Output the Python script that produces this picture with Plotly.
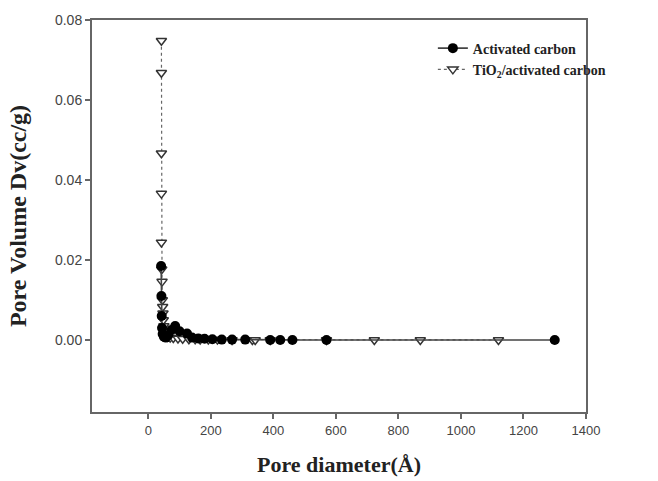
import plotly.graph_objects as go

# Activated carbon (filled circles, solid line)
ac_x = [41, 42, 43, 44, 46, 50, 56, 64, 74, 86, 100, 124, 140, 160, 180, 205, 235, 268, 310, 390, 422, 461, 570, 1300]
ac_y = [0.0185, 0.0110, 0.0060, 0.0030, 0.0015, 0.0008, 0.0006, 0.0012, 0.0025, 0.0035, 0.0022, 0.0016,
        0.0006, 0.0004, 0.0003, 0.0002, 0.0001, 0.0001, 0.0001, 0.0, 0.0, 0.0, 0.0, 0.0]

# TiO2/activated carbon (open down-triangles, dotted line)
ti_x = [42, 42, 42, 42, 42, 43, 44, 45, 46, 47, 48, 50, 53, 57, 62, 70, 80, 95, 110, 130, 150, 166, 192, 221,
        268, 333, 342, 390, 570, 723, 870, 1120]
ti_y = [0.0748, 0.0668, 0.0467, 0.0366, 0.0244, 0.0177, 0.0146, 0.0100, 0.0083, 0.0067, 0.0050, 0.0035,
        0.0020, 0.0012, 0.0008, 0.0006, 0.0005, 0.0004, 0.0003, 0.0002, 0.0002, 0.0001, 0.0001, 0.0001,
        0.0, 0.0, 0.0, 0.0, 0.0, 0.0, 0.0, 0.0]

x_ticks = [0, 200, 400, 600, 800, 1000, 1200, 1400]
y_ticks = [0.00, 0.02, 0.04, 0.06, 0.08]

fig = go.Figure()
fig.add_trace(go.Scatter(
    x=ti_x, y=ti_y, mode="lines+markers", name="TiO<sub>2</sub>/activated carbon",
    line=dict(color="#666666", width=1.2, dash="dot"),
    marker=dict(symbol="triangle-down", size=9, color="white", line=dict(color="#333333", width=1.5)),
))
fig.add_trace(go.Scatter(
    x=ac_x, y=ac_y, mode="lines+markers", name="Activated carbon",
    line=dict(color="#444444", width=1.6),
    marker=dict(symbol="circle", size=10, color="black", line=dict(color="black", width=0)),
))

fig.update_layout(
    width=658, height=481,
    margin=dict(l=92, r=72, t=20, b=69),
    paper_bgcolor="white", plot_bgcolor="white",
    showlegend=True,
    legend=dict(
        x=0.69, y=0.968, xanchor="left", yanchor="top",
        traceorder="reversed",
        font=dict(family="Liberation Serif", size=14, color="#222222", weight="bold"),
        bgcolor="rgba(0,0,0,0)", tracegroupgap=0,
    ),
    xaxis=dict(
        range=[-180, 1400], tickvals=x_ticks, automargin=False,
        showline=True, linecolor="#666666", linewidth=2, mirror=True,
        ticks="outside", ticklen=5, tickcolor="#666666", tickwidth=1.5,
        showgrid=False, zeroline=False,
        tickfont=dict(family="Liberation Sans", size=13, color="#444444"),
        title=dict(text="Pore diameter(Å)",
                   font=dict(family="Liberation Serif", size=22, color="#222222", weight="bold"), standoff=20),
    ),
    yaxis=dict(
        range=[-0.018, 0.08], tickvals=y_ticks, tickformat=".2f", automargin=False,
        showline=True, linecolor="#666666", linewidth=2, mirror=True,
        ticks="outside", ticklen=5, tickcolor="#666666", tickwidth=1.5,
        showgrid=False, zeroline=False,
        tickfont=dict(family="Liberation Sans", size=14, color="#444444"),
        title=dict(text="Pore Volume Dv(cc/g)",
                   font=dict(family="Liberation Serif", size=24, color="#222222", weight="bold"), standoff=22),
    ),
)

fig.write_html("out.html")
